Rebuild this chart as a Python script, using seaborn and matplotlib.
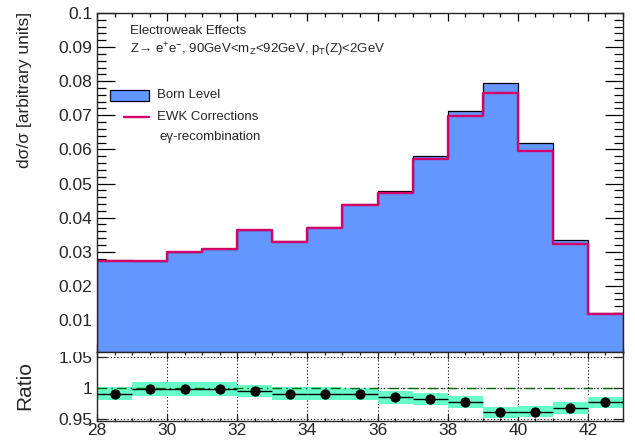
import numpy as np
import pandas as pd
import matplotlib
matplotlib.use("Agg")
import matplotlib.pyplot as plt
from matplotlib.patches import Rectangle
from matplotlib.lines import Line2D
from matplotlib.transforms import Bbox, TransformedBbox
import seaborn as sns

# ---- data ----
bin_edges = [28, 29, 30, 31, 32, 33, 34, 35, 36, 37, 38, 39, 40, 41, 42, 43]
born = [0.0276, 0.0274, 0.0300, 0.0308, 0.0365, 0.0331, 0.0372, 0.0440,
        0.0477, 0.0582, 0.0712, 0.0796, 0.0618, 0.0333, 0.0121]
ewk = [0.0274, 0.0273, 0.0299, 0.0307, 0.0363, 0.0328, 0.0369, 0.0436,
       0.0471, 0.0571, 0.0698, 0.0764, 0.0595, 0.0322, 0.0118]
ratio = [0.991, 0.998, 0.998, 0.998, 0.995, 0.991, 0.991, 0.990,
         0.985, 0.982, 0.977, 0.961, 0.962, 0.968, 0.977]
ratio_err = [0.003] * 15
band_err = [0.0105, 0.011, 0.011, 0.011, 0.010, 0.010, 0.0105, 0.010,
            0.010, 0.010, 0.0095, 0.009, 0.009, 0.0095, 0.009]
main_yticks = [0.01, 0.02, 0.03, 0.04, 0.05, 0.06, 0.07, 0.08, 0.09, 0.1]
main_yticklabels = ["0.01", "0.02", "0.03", "0.04", "0.05", "0.06", "0.07", "0.08", "0.09", "0.1"]
ratio_yticks = [0.95, 1.0, 1.05]
ratio_yticklabels = ["0.95", "1", "1.05"]
xticks = [28, 30, 32, 34, 36, 38, 40, 42]

edges = [float(e) for e in bin_edges]
centers = [0.5 * (a + b) for a, b in zip(edges[:-1], edges[1:])]
df = pd.DataFrame({"x": centers, "born": born, "ewk": ewk,
                   "ratio": ratio, "rerr": ratio_err, "band": band_err})

sns.set_style("ticks")
plt.rcParams["font.family"] = ["Liberation Sans", "DejaVu Sans"]
plt.rcParams["mathtext.fontset"] = "custom"
plt.rcParams["mathtext.rm"] = "Liberation Sans"
plt.rcParams["mathtext.it"] = "Liberation Sans:italic"

W, H = 635, 441
fig = plt.figure(figsize=(W / 100, H / 100), dpi=100)

def fx(px):
    return px / W

def fy(py):
    return 1 - py / H

L, R = 97, 623
ax = fig.add_axes([fx(L), fy(352), fx(R - L), fy(13) - fy(352)])
axr = fig.add_axes([fx(L), fy(421), fx(R - L), fy(352) - fy(421)])

blue = "#6496FF"
pink = "#D4006A"
aqua = "#66FFCC"

sns.histplot(data=df, x="x", weights="born", bins=edges, element="step",
             fill=True, color=blue, edgecolor="black", linewidth=0.9,
             alpha=1, ax=ax, zorder=2)
sns.histplot(data=df, x="x", weights="ewk", bins=edges, element="step",
             fill=False, color=pink, linewidth=1.7, ax=ax, zorder=3)

ax.set_xlim(28, 43)
ax.set_ylim(0.0006, 0.1)
ax.set_xlabel("")
ax.set_ylabel("")
ax.set_yticks(main_yticks)
ax.set_yticklabels(main_yticklabels)
ax.set_xticks(xticks)
ax.set_xticklabels([])
ax.set_xticks(np.arange(28, 43.01, 0.5), minor=True)
ax.set_yticks(np.arange(0.002, 0.1, 0.002), minor=True)
ax.tick_params(axis="both", which="both", direction="in", top=True, right=True,
               labelsize=12.5, width=0.9, color="black")
ax.tick_params(axis="x", which="major", length=6)
ax.tick_params(axis="x", which="minor", length=3)
ax.tick_params(axis="y", which="major", length=13, pad=3.5)
ax.tick_params(axis="y", which="minor", length=6.5)
for s in ax.spines.values():
    s.set_linewidth(1.0)
    s.set_zorder(5)

# ratio panel
axr.bar(df["x"], 2 * df["band"], bottom=df["ratio"] - df["band"], width=1.0,
        color=aqua, linewidth=0, zorder=1)
axr.grid(True, which="major", linestyle=(0, (1, 2)), color="black", linewidth=0.8, zorder=2)
axr.axhline(1.0, color="#006400", linestyle=(0, (7, 3, 1, 3)), linewidth=1.0, zorder=3)
axr.errorbar(df["x"], df["ratio"], xerr=0.5, yerr=df["rerr"], fmt="none",
             ecolor="black", elinewidth=1.0, capsize=0, zorder=4)
sns.scatterplot(data=df, x="x", y="ratio", color="black", s=55, edgecolor="black",
                linewidth=0, ax=axr, zorder=5, legend=False)
axr.set_xlim(28, 43)
axr.set_ylim(0.9468, 1.058)
axr.set_xlabel("")
axr.set_ylabel("")
axr.set_xticks(xticks)
axr.set_xticklabels([str(t) for t in xticks])
axr.set_xticks(np.arange(28, 43.01, 0.5), minor=True)
axr.set_yticks(ratio_yticks)
axr.set_yticklabels(ratio_yticklabels)
axr.tick_params(axis="both", which="both", direction="in", top=True, right=True,
                labelsize=12.5, width=0.9)
axr.tick_params(axis="x", which="major", length=5, pad=1.5)
axr.tick_params(axis="x", which="minor", length=2.5)
axr.tick_params(axis="y", which="major", length=7, pad=3.5)
for s in axr.spines.values():
    s.set_linewidth(1.0)

# clip ratio y labels at the pad boundary (top label is cut, as in the reference)
clip_bb = TransformedBbox(Bbox([[0, 0], [fx(L), fy(352)]]), fig.transFigure)
for lab in axr.get_yticklabels():
    lab.set_clip_box(clip_bb)
    lab.set_clip_on(True)

# axis titles
fig.text(fx(25), fy(12), "dσ/σ [arbitrary units]", rotation=90, ha="center",
         va="top", fontsize=12.5)
fig.text(fx(24.5), fy(386), "Ratio", rotation=90, ha="center", va="center",
         fontsize=15)

# annotations
fig.text(fx(130), fy(31), "Electroweak Effects", ha="left", va="center", fontsize=9.5)
fig.text(fx(130), fy(50),
         r"Z→ e$^{+}$e$^{-}$, 90GeV<m$_{\mathrm{Z}}$<92GeV, p$_{\mathrm{T}}$(Z)<2GeV",
         ha="left", va="center", fontsize=9.5)

# legend (manual)
fig.patches.append(Rectangle((fx(110), fy(100.7)), fx(39), fy(90) - fy(100.7),
                             transform=fig.transFigure, facecolor=blue,
                             edgecolor="black", linewidth=0.9))
fig.lines.append(Line2D([fx(124), fx(149)], [fy(117), fy(117)],
                        transform=fig.transFigure, color=pink, linewidth=1.7))
fig.text(fx(157), fy(95), "Born Level", ha="left", va="center", fontsize=9.5)
fig.text(fx(157), fy(117), "EWK Corrections", ha="left", va="center", fontsize=9.5)
fig.text(fx(160), fy(137), "eγ-recombination", ha="left", va="center", fontsize=9.5)

fig.savefig("out.png", dpi=100)
